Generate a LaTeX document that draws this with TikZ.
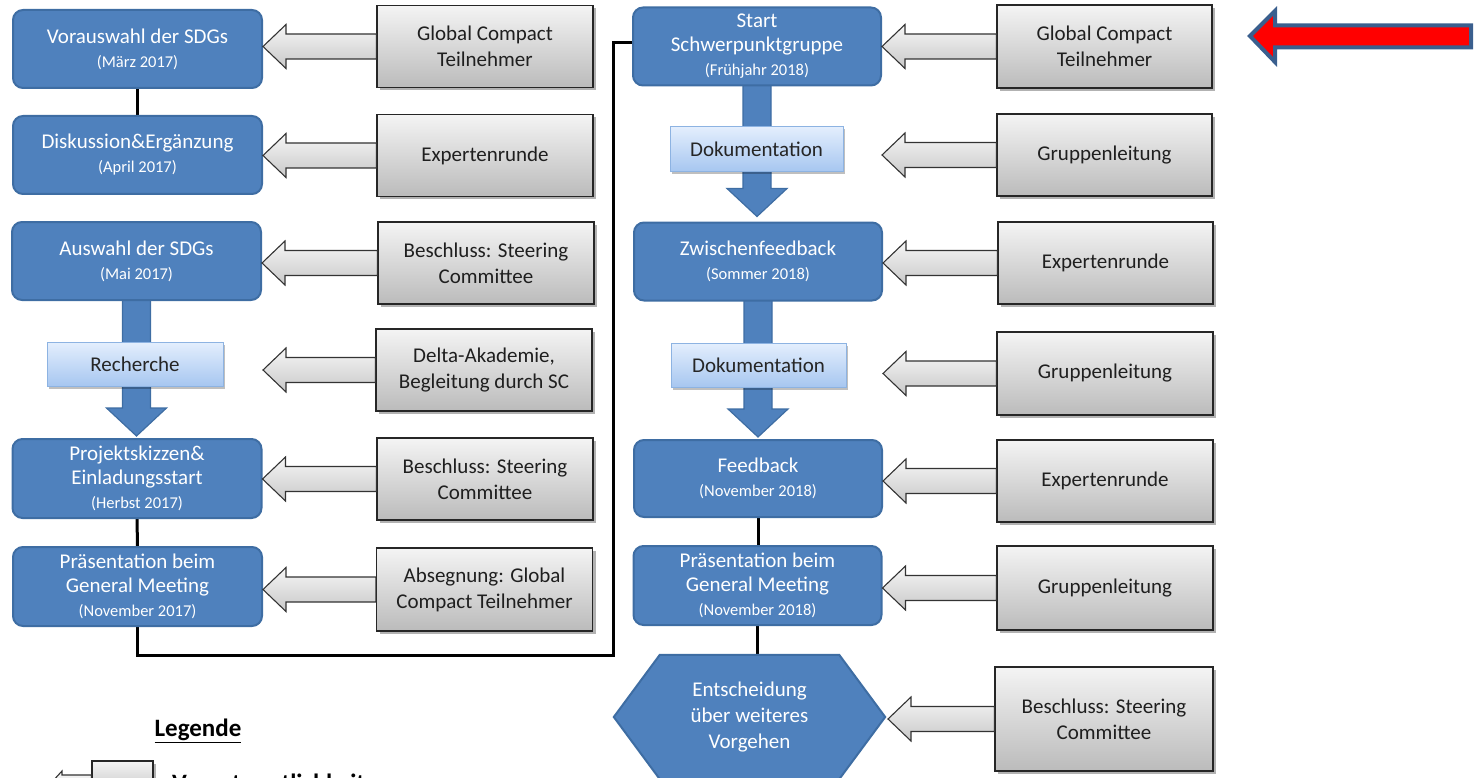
\documentclass[tikz,border=0pt]{standalone}
\usepackage{fontspec}
\setmainfont{Carlito}
\usetikzlibrary{calc,shadows,backgrounds}
\definecolor{bluefill}{HTML}{4F81BD}
\definecolor{blueline}{HTML}{3E6DA3}
\definecolor{lighttop}{HTML}{E3EEFD}
\definecolor{lightbot}{HTML}{A6C6F0}
\definecolor{lightline}{HTML}{8DB3E2}
\definecolor{graytop}{HTML}{F4F4F4}
\definecolor{graybot}{HTML}{BBBBBB}
\definecolor{arrtop}{HTML}{F6F6F6}
\definecolor{arrbot}{HTML}{C8C8C8}
\definecolor{redfill}{HTML}{FF0000}
\definecolor{redline}{HTML}{3A5F8E}
\newcommand\datefont{\fontsize{16.5}{21}\selectfont}
\tikzset{
 bluebox/.style={draw=blueline, line width=2pt, fill=bluefill, rounded corners=10pt, text=white, align=center,
   font=\fontsize{21}{24}\selectfont, inner sep=0pt, minimum width=249, minimum height=78},
 graybox/.style={draw=black!85, line width=1.2pt, top color=graytop, bottom color=graybot, align=center,
   font=\fontsize{21}{26}\selectfont, text=black!88, inner sep=0pt, minimum width=216, minimum height=82,
   drop shadow={shadow xshift=3pt, shadow yshift=-3pt, opacity=0.3, fill=black}},
 lightbox/.style={draw=lightline, line width=1pt, top color=lighttop, bottom color=lightbot,
   font=\fontsize{21}{24}\selectfont, text=black!85, inner sep=0pt, minimum height=44,
   drop shadow={shadow xshift=2pt, shadow yshift=-2pt, opacity=0.25, fill=black}},
 grayarr/.style={draw=black!80, line width=1.1pt, top color=arrtop, bottom color=arrbot},
 bluearr/.style={draw=blueline, line width=1.2pt, fill=bluefill},
 hexstyle/.style={draw=blueline, line width=2pt, fill=bluefill},
 redarr/.style={draw=redline, line width=4pt, fill=redfill, line join=miter},
 link/.style={draw=black, line width=3pt},
 legendfont/.style={font=\bfseries\fontsize{25}{28}\selectfont, inner sep=0pt},
}
% gray block arrow: #1 gray node (source), #2 coordinate giving the tip x
\newcommand\grayarrow[2]{%
 \path[grayarr] let \p1=(#2), \p2=(#1.west) in
  (\x1,\y2) -- (\x1+23pt,\y2+22pt) -- (\x1+23pt,\y2+12.5pt) -- (\x2,\y2+12.5pt)
  -- (\x2,\y2-12.5pt) -- (\x1+23pt,\y2-12.5pt) -- (\x1+23pt,\y2-22pt) -- cycle;}
% blue block arrow downwards: #1 source node, #2 target node, #3 gap above target
\newcommand\bluearrow[3]{%
 \path[bluearr] let \p1=(#1.south), \p2=(#2.north) in
  (\x1-14pt,\y1+2pt) -- (\x1-14pt,\y2+#3+28pt) -- (\x1-30pt,\y2+#3+28pt) -- (\x1,\y2+#3)
  -- (\x1+30pt,\y2+#3+28pt) -- (\x1+14pt,\y2+#3+28pt) -- (\x1+14pt,\y1+2pt) -- cycle;}
\begin{document}
\begin{tikzpicture}[x=1pt,y=-1pt]
\useasboundingbox (0,0) rectangle (1474,778);

% ---------- left column ----------
\node[bluebox] (b1) at (137.5,49) {Vorauswahl der SDGs\\{\datefont(März 2017)}};
\node[bluebox] (b2) at (137.5,155) {Diskussion\&Ergänzung\\{\datefont(April 2017)}};
\node[bluebox] (b3) at (136.5,261) {Auswahl der SDGs\\{\datefont(Mai 2017)}};
\node[lightbox, minimum width=176] (r1) at (135,364.5) {Recherche};
\node[bluebox, minimum height=79] (b4) at (137,478.5) {Projektskizzen\&\\Einladungsstart\\{\datefont(Herbst 2017)}};
\node[bluebox, minimum height=79] (b5) at (137.5,586.5) {Präsentation beim\\General Meeting\\{\datefont(November 2017)}};

\node[graybox] (g1) at (485,46.5) {Global Compact\\Teilnehmer};
\node[graybox] (g2) at (485,155.5) {Expertenrunde};
\node[graybox] (g3) at (486,263) {Beschluss: Steering\\Committee};
\node[graybox] (g4) at (484,370) {Delta-Akademie,\\Begleitung durch SC};
\node[graybox] (g5) at (485,479) {Beschluss: Steering\\Committee};
\node[graybox, minimum height=83] (g6) at (484.5,589.5) {Absegnung: Global\\Compact Teilnehmer};

% ---------- right column ----------
\node[bluebox, minimum width=248] (b6) at (757,46.5) {Start\\Schwerpunktgruppe\\{\datefont(Frühjahr 2018)}};
\node[lightbox, minimum width=173, minimum height=45] (d1) at (756.5,149.5) {Dokumentation};
\node[bluebox, minimum width=248] (b7) at (758,261.5) {Zwischenfeedback\\{\datefont(Sommer 2018)}};
\node[lightbox, minimum width=175] (d2) at (758.5,365.5) {Dokumentation};
\node[bluebox, minimum width=248, minimum height=77] (b8) at (758,478.5) {Feedback\\{\datefont(November 2018)}};
\node[bluebox, minimum width=248, minimum height=79] (b9) at (757.5,585.5) {Präsentation beim\\General Meeting\\{\datefont(November 2018)}};
\node[align=center, text=white, font=\fontsize{21}{26}\selectfont, inner sep=0pt,
      minimum width=271, minimum height=124] (hex) at (749.5,717) {Entscheidung\\über weiteres\\Vorgehen};

\node[graybox, minimum width=215, minimum height=83] (g7) at (1104.5,46.5) {Global Compact\\Teilnehmer};
\node[graybox, minimum width=215] (g8) at (1104.5,155) {Gruppenleitung};
\node[graybox, minimum width=215] (g9) at (1105.5,263) {Expertenrunde};
\node[graybox, minimum width=216, minimum height=83] (g10) at (1105,373.5) {Gruppenleitung};
\node[graybox, minimum width=216] (g11) at (1105,481) {Expertenrunde};
\node[graybox, minimum width=216, minimum height=84] (g12) at (1105,588) {Gruppenleitung};
\node[graybox, minimum width=218, minimum height=104] (g13) at (1104,719) {Beschluss: Steering\\Committee};

% ---------- connectors behind the boxes ----------
\coordinate (c1) at (613,655);
\coordinate (c2) at (613,43);
\begin{pgfonlayer}{background}
 \draw[link] (b1.south) -- (b2.north);
 \draw[link] (b4.south) -- (b5.north);
 \draw[link] (b5.south) |- (c1) -- (c2) -- (c2 -| b6.west);
 \draw[link] (b8.south) -- (b8.south |- b9.north);
 \draw[link] (b9.south) -- (b9.south |- hex.north);
 \bluearrow{b3}{b4}{2pt}
 \bluearrow{b6}{b7}{5pt}
 \bluearrow{b7}{b8}{2pt}
 \path[hexstyle] (hex.west) -- ([xshift=46pt]hex.north west) -- ([xshift=-46pt]hex.north east)
   -- (hex.east) -- ([xshift=-46pt]hex.south east) -- ([xshift=46pt]hex.south west) -- cycle;
\end{pgfonlayer}

% ---------- responsibility arrows ----------
\coordinate (rtip) at (263,370);
\coordinate (htip) at (888,717);
\grayarrow{g1}{b1.east}
\grayarrow{g2}{b2.east}
\grayarrow{g3}{b3.east}
\grayarrow{g4}{rtip}
\grayarrow{g5}{b4.east}
\grayarrow{g6}{b5.east}
\grayarrow{g7}{b6.east}
\grayarrow{g8}{b6.east}
\grayarrow{g9}{b7.east}
\grayarrow{g10}{b7.east}
\grayarrow{g11}{b8.east}
\grayarrow{g12}{b9.east}
\grayarrow{g13}{htip}

% ---------- red marker arrow ----------
\draw[redarr] (1250,36) -- (1275,11) -- (1275,25.5) -- (1471,25.5) -- (1471,47.5) -- (1275,47.5) -- (1275,62) -- cycle;

% ---------- legend ----------
\node[legendfont] (leg) at (198,731) {\underline{Legende}};
\node[graybox, minimum width=61, minimum height=40] (legbox) at (122.5,781) {};
\coordinate (legtip) at (40,795);
\path[grayarr] let \p1=(legtip), \p2=(legbox.west) in
  (\x1,\y1) -- (\x1+22pt,\y1+24pt) -- (\x1+22pt,\y1+20pt) -- (\x2,\y1+20pt)
  -- (\x2,\y1-20pt) -- (\x1+22pt,\y1-20pt) -- (\x1+22pt,\y1-24pt) -- cycle;
\node[legendfont, anchor=base west] (legtxt) at (172,791) {Verantwortlichkeit};
\end{tikzpicture}
\end{document}
